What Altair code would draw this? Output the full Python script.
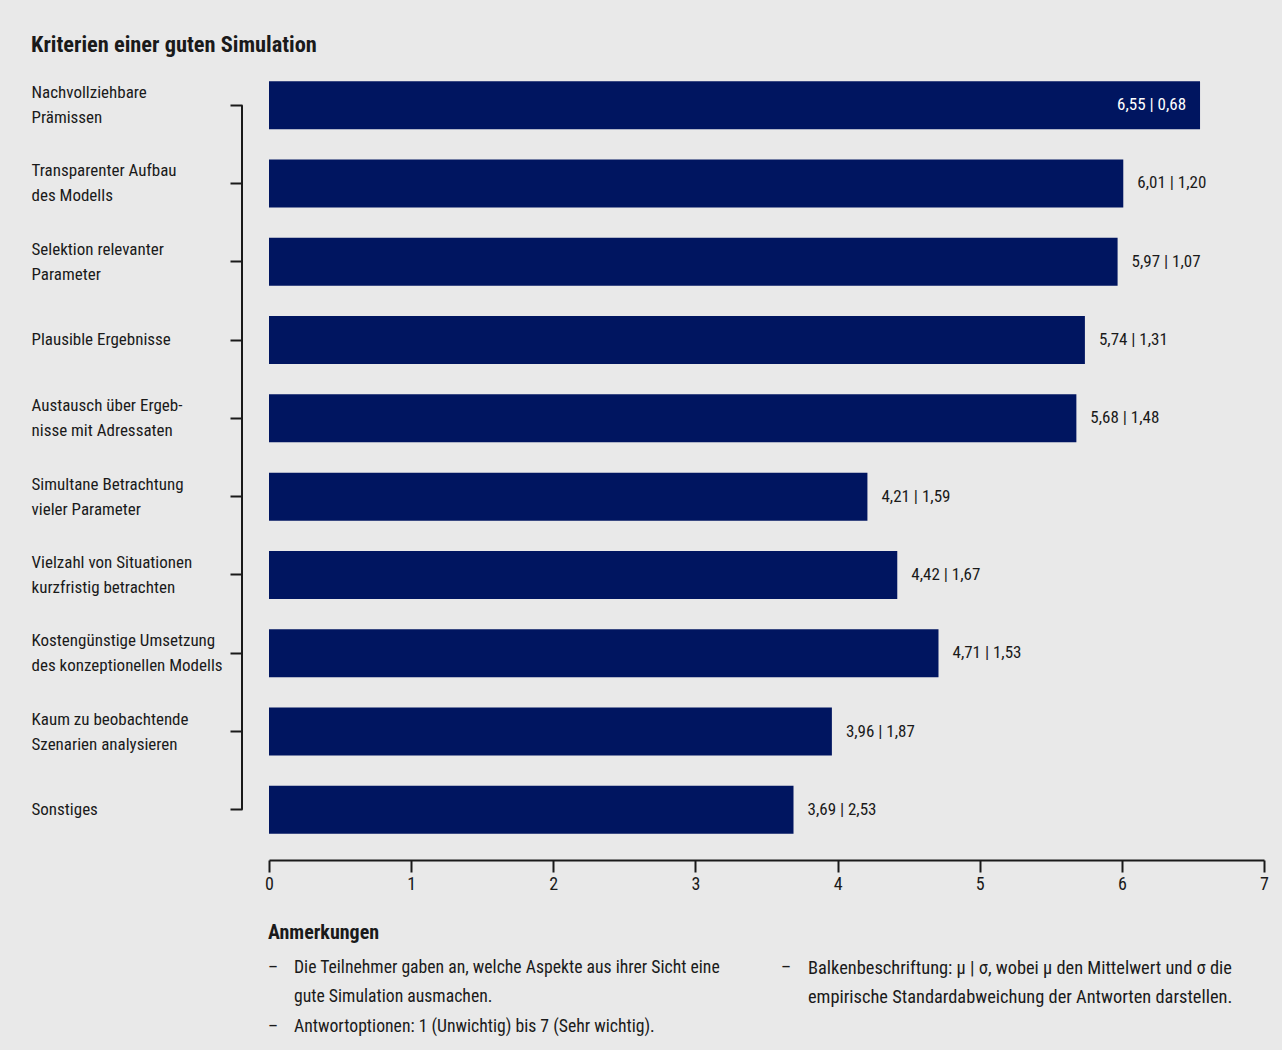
import altair as alt
import pandas as pd

FONT = "Liberation Sans Narrow, Roboto Condensed, DejaVu Sans Condensed, sans-serif"

categories = [
    "Nachvollziehbare\nPrämissen",
    "Transparenter Aufbau\ndes Modells",
    "Selektion relevanter\nParameter",
    "Plausible Ergebnisse",
    "Austausch über Ergeb-\nnisse mit Adressaten",
    "Simultane Betrachtung\nvieler Parameter",
    "Vielzahl von Situationen\nkurzfristig betrachten",
    "Kostengünstige Umsetzung\ndes konzeptionellen Modells",
    "Kaum zu beobachtende\nSzenarien analysieren",
    "Sonstiges",
]
means = [6.55, 6.01, 5.97, 5.74, 5.68, 4.21, 4.42, 4.71, 3.96, 3.69]
sds = [0.68, 1.20, 1.07, 1.31, 1.48, 1.59, 1.67, 1.53, 1.87, 2.53]
x_ticks = [0, 1, 2, 3, 4, 5, 6, 7]

title_text = "Kriterien einer guten Simulation"
notes_title = "Anmerkungen"
notes_left = [
    "Die Teilnehmer gaben an, welche Aspekte aus ihrer Sicht eine",
    "gute Simulation ausmachen.",
    "Antwortoptionen: 1 (Unwichtig) bis 7 (Sehr wichtig).",
]
notes_left_dash = [True, False, True]
notes_right = [
    "Balkenbeschriftung: \u03bc | \u03c3, wobei \u03bc den Mittelwert und \u03c3 die",
    "empirische Standardabweichung der Antworten darstellen.",
]
notes_right_dash = [True, False]


def de(v):
    return f"{v:.2f}".replace(".", ",")


df = pd.DataFrame({
    "label": categories,
    "mean": means,
    "sd": sds,
})
df["txt"] = [de(m) + " | " + de(s) for m, s in zip(means, sds)]
df["inside"] = df["mean"] == df["mean"].max()

BAR = "#001560"
INK = "#1a1a1a"

y_enc = alt.Y(
    "label:N",
    title=None,
    scale=alt.Scale(domain=categories, paddingInner=0.387, paddingOuter=0.1935),
    axis=alt.Axis(
        domain=False,
        ticks=True,
        tickSize=12,
        tickWidth=2,
        tickColor=INK,
        offset=27,
        labelAlign="left",
        labelPadding=199,
        labelFontSize=17,
        labelFont=FONT,
        labelColor=INK,
        labelLineHeight=25,
        labelLimit=300,
        labelOffset={"condition": {"test": "indexof(datum.value, '\\n') >= 0", "value": -12},
                     "value": 0},
        labelExpr="split(datum.label, '\\n')",
    ),
)
x_enc = alt.X(
    "mean:Q",
    title=None,
    scale=alt.Scale(domain=[0, 7], nice=False),
    axis=alt.Axis(
        values=x_ticks,
        format="d",
        grid=False,
        offset=11,
        domainColor=INK,
        domainWidth=2,
        tickColor=INK,
        tickWidth=2,
        tickSize=12,
        labelFontSize=18,
        labelFont=FONT,
        labelColor=INK,
        labelPadding=3,
        labelFlush=False,
    ),
)

base = alt.Chart(df)
bars = base.mark_bar(color=BAR).encode(x=x_enc, y=y_enc)

txt_in = base.transform_filter("datum.inside").mark_text(
    align="right", baseline="middle", dx=-14, fontSize=17, font=FONT, color="white"
).encode(x=alt.X("mean:Q", title=None), y=alt.Y("label:N", title=None), text="txt:N")

txt_out = base.transform_filter("!datum.inside").mark_text(
    align="left", baseline="middle", dx=14, fontSize=17, font=FONT, color=INK
).encode(x=alt.X("mean:Q", title=None), y=alt.Y("label:N", title=None), text="txt:N")

rule_df = pd.DataFrame({"label": [categories[0]], "end": [categories[-1]]})
bracket = alt.Chart(rule_df).mark_rule(color=INK, strokeWidth=2).encode(
    x=alt.value(-27),
    y=alt.Y("label:N", title=None),
    y2="end:N",
)


def text_layer(s, x, y, size=17.7, bold=False):
    return alt.Chart(pd.DataFrame({"t": [s]})).mark_text(
        align="left", baseline="middle", fontSize=size, font=FONT,
        fontWeight="bold" if bold else "normal", color=INK,
    ).encode(x=alt.value(x), y=alt.value(y), text="t:N")


extras = [text_layer(title_text, -238, -21, size=22.4, bold=True),
          text_layer(notes_title, -1, 867, size=20, bold=True)]
ys_left = [902, 931, 961]
for s, d, yy in zip(notes_left, notes_left_dash, ys_left):
    if d:
        extras.append(text_layer("\u2013", -1, yy))
    extras.append(text_layer(s, 25, yy))
ys_right = [902, 931]
for s, d, yy in zip(notes_right, notes_right_dash, ys_right):
    if d:
        extras.append(text_layer("\u2013", 512, yy))
    extras.append(text_layer(s, 539, yy, size=18.4))

chart = alt.layer(bars, txt_in, txt_out, bracket, *extras).properties(
    width=995,
    height=783,
    background="#e9e9e9",
    padding={"left": 269, "top": 66, "right": 18, "bottom": 201},
    autosize=alt.AutoSizeParams(type="none"),
).configure_view(stroke=None).configure_text(font=FONT)

chart.save("out.html", embed_options={"renderer": "svg", "actions": False})
